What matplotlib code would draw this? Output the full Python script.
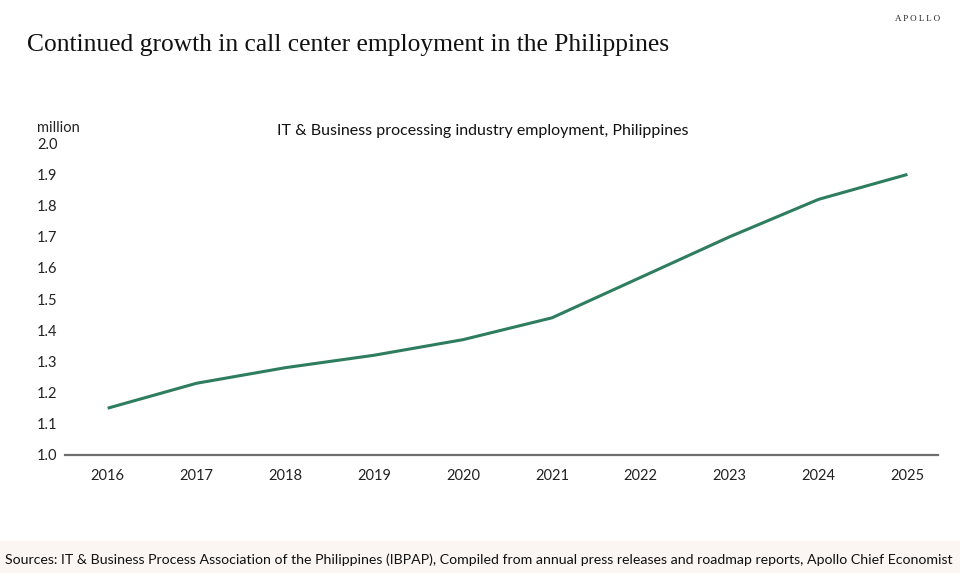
import matplotlib.pyplot as plt

# IT & Business processing employment, Philippines (million)
years = [2016, 2017, 2018, 2019, 2020, 2021, 2022, 2023, 2024, 2025]
employment = [1.15, 1.23, 1.28, 1.32, 1.37, 1.44, 1.57, 1.70, 1.82, 1.90]
y_ticks = [1.0, 1.1, 1.2, 1.3, 1.4, 1.5, 1.6, 1.7, 1.8, 1.9, 2.0]

SANS = 'Lato'

fig = plt.figure(figsize=(9.6, 5.73), dpi=100)
ax = fig.add_axes([0.0677, 0.206, 0.909, 0.544])

ax.plot(years, employment, color='#2e7d5e', linewidth=2.2, solid_capstyle='butt')

ax.set_xlim(2015.52, 2025.34)
ax.set_ylim(1.0, 2.0)
ax.set_xticks(years)
ax.set_yticks(y_ticks)
ax.set_yticklabels(['%.1f' % v for v in y_ticks])

for s in ['top', 'right', 'left']:
    ax.spines[s].set_visible(False)
ax.spines['bottom'].set_color('#6e6e6e')
ax.spines['bottom'].set_linewidth(1.6)

ax.tick_params(axis='x', length=0, pad=10, labelsize=10.5, labelcolor='#222222')
ax.tick_params(axis='y', length=0, pad=20, labelsize=10.5, labelcolor='#222222')
for lab in ax.get_yticklabels():
    lab.set_horizontalalignment('left')
for lab in ax.get_xticklabels() + ax.get_yticklabels():
    lab.set_fontfamily(SANS)

fig.text(37 / 960, 1 - 128 / 573, 'million', fontsize=10.5, family=SANS,
         color='#222222', va='center', ha='left')
fig.text(483 / 960, 1 - 131 / 573, 'IT & Business processing industry employment, Philippines',
         fontsize=11.5, family=SANS, color='#111111', va='center', ha='center')

fig.text(27 / 960, 1 - 45 / 573, 'Continued growth in call center employment in the Philippines',
         fontsize=18.4, family='Liberation Serif', color='#111111', va='center', ha='left')
fig.text(940 / 960, 1 - 19 / 573, 'A P O L L O', fontsize=6.5, family='Liberation Serif',
         color='#222222', va='center', ha='right')

# footer band
fig.patches.append(plt.Rectangle((0, 0), 1, 32 / 573, transform=fig.transFigure,
                                 facecolor='#fbf6f2', edgecolor='none', zorder=0))
fig.text(5 / 960, 1 - 560 / 573,
         'Sources: IT & Business Process Association of the Philippines (IBPAP), Compiled from annual '
         'press releases and roadmap reports, Apollo Chief Economist',
         fontsize=10.2, family=SANS, color='#111111', va='center', ha='left')

fig.savefig('out.png', dpi=100)
